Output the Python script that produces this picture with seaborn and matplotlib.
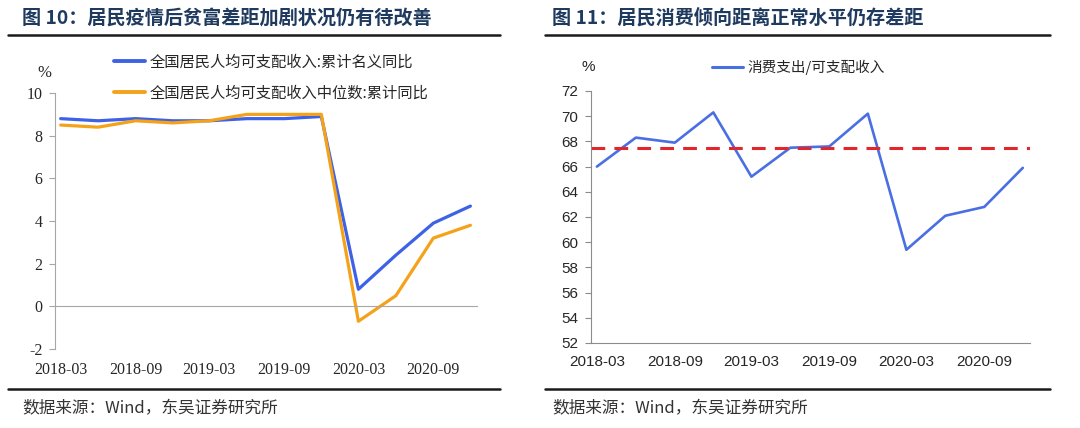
import pandas as pd
import seaborn as sns
import matplotlib.pyplot as plt
from matplotlib.lines import Line2D

# 数据
quarters = ['2018-03', '2018-06', '2018-09', '2018-12',
            '2019-03', '2019-06', '2019-09', '2019-12',
            '2020-03', '2020-06', '2020-09', '2020-12']
tick_months = ['2018-03', '2018-09', '2019-03', '2019-09', '2020-03', '2020-09']
income_nominal = [8.8, 8.7, 8.8, 8.7, 8.7, 8.8, 8.8, 8.9, 0.8, 2.4, 3.9, 4.7]
income_median = [8.5, 8.4, 8.7, 8.6, 8.7, 9.0, 9.0, 9.0, -0.7, 0.5, 3.2, 3.8]
consume_ratio = [66.0, 68.3, 67.9, 70.3, 65.2, 67.5, 67.6, 70.2, 59.4, 62.1, 62.8, 65.9]
normal_level = 67.5

name_nominal = '全国居民人均可支配收入:累计名义同比'
name_median = '全国居民人均可支配收入中位数:累计同比'
name_ratio = '消费支出/可支配收入'

sns.set_style('white')
plt.rcParams['font.family'] = ['Noto Sans CJK SC', 'DejaVu Sans']

dates = pd.to_datetime(quarters) + pd.Timedelta(days=14)
tick_pos = pd.to_datetime(tick_months)
label_pos = tick_pos + pd.Timedelta(days=14)

df_left = pd.DataFrame({'date': list(dates) * 2,
                        'value': income_nominal + income_median,
                        'series': [name_nominal] * 12 + [name_median] * 12})
df_right = pd.DataFrame({'date': dates, 'value': consume_ratio, 'series': name_ratio})

fig = plt.figure(figsize=(10.8, 4.28), dpi=100)
ax1 = fig.add_axes([0.0509, 0.1846, 0.3907, 0.598])
ax2 = fig.add_axes([0.5472, 0.1986, 0.4065, 0.5888])

grey = '#A6A6A6'
serif = ['Liberation Serif', 'Noto Sans CJK SC']
sans = ['Liberation Sans', 'Noto Sans CJK SC']

# 左图
sns.lineplot(data=df_left, x='date', y='value', hue='series', ax=ax1,
             palette={name_nominal: '#3E62E6', name_median: '#F5A21B'},
             linewidth=2.3, legend=False)
ax1.set_xlim(pd.Timestamp('2018-03-01'), pd.Timestamp('2020-12-31'))
ax1.set_ylim(-2, 10)
ax1.set_yticks(range(-2, 11, 2))
ax1.set_yticklabels([str(v) for v in range(-2, 11, 2)], family=serif, fontsize=11.5)
ax1.spines['bottom'].set_position(('data', 0))
for s in ['top', 'right']:
    ax1.spines[s].set_visible(False)
for s in ['left', 'bottom']:
    ax1.spines[s].set_color(grey)
ax1.set_xticks(tick_pos)
ax1.set_xticklabels([])
ax1.set_xticks(label_pos, minor=True)
ax1.set_xticklabels(tick_months, minor=True, family=serif, fontsize=11.5)
ax1.tick_params(axis='x', which='major', direction='out', length=4, color=grey)
ax1.tick_params(axis='x', which='minor', length=0, pad=40)
ax1.tick_params(axis='y', direction='out', length=4, color=grey, pad=5, left=True)
ax1.set_xlabel('')
ax1.set_ylabel('')
fig.text(0.035, 1 - 73 / 428, '%', family=serif, fontsize=12, va='center')
handles1 = [Line2D([], [], color='#3E62E6', lw=2.8), Line2D([], [], color='#F5A21B', lw=2.8)]
fig.legend(handles1, [name_nominal, name_median], loc='center left',
           bbox_to_anchor=(0.106, 1 - 77.5 / 428), frameon=False, fontsize=11,
           handlelength=2.0, handletextpad=0.3, labelspacing=0.95,
           borderpad=0, borderaxespad=0)

# 右图
sns.lineplot(data=df_right, x='date', y='value', ax=ax2, color='#4A6FE3',
             linewidth=1.9, legend=False)
ax2.axhline(normal_level, color='#E3262B', linewidth=2.2, linestyle=(0, (4.5, 3)))
ax2.set_xlim(pd.Timestamp('2018-03-01'), pd.Timestamp('2021-01-01'))
ax2.set_ylim(52, 72)
ax2.set_yticks(range(52, 73, 2))
ax2.set_yticklabels([str(v) for v in range(52, 73, 2)], family=sans, fontsize=11)
for s in ['top', 'right']:
    ax2.spines[s].set_visible(False)
for s in ['left', 'bottom']:
    ax2.spines[s].set_color('#8C8C8C')
ax2.set_xticks(tick_pos)
ax2.set_xticklabels([])
ax2.set_xticks(label_pos, minor=True)
ax2.set_xticklabels(tick_months, minor=True, family=sans, fontsize=11)
ax2.tick_params(axis='x', which='major', direction='out', length=4, color='#8C8C8C')
ax2.tick_params(axis='x', which='minor', length=0, pad=9)
ax2.tick_params(axis='y', direction='out', length=4, color='#8C8C8C', pad=5, left=True)
ax2.set_xlabel('')
ax2.set_ylabel('')
fig.text(582 / 1080, 1 - 67 / 428, '%', family=sans, fontsize=11, va='center')
fig.legend([Line2D([], [], color='#4A6FE3', lw=2.2)], [name_ratio], loc='center left',
           bbox_to_anchor=(712 / 1080, 1 - 67 / 428), frameon=False, fontsize=10.5,
           handlelength=2.1, handletextpad=0.3, borderpad=0, borderaxespad=0)

# 标题、分隔线、来源
title_color = '#1F3A5F'
fig.text(22 / 1080, 1 - 18 / 428, '图 10：居民疫情后贫富差距加剧状况仍有待改善',
         fontsize=13.8, fontweight='bold', color=title_color, va='center')
fig.text(552 / 1080, 1 - 18 / 428, '图 11：居民消费倾向距离正常水平仍存差距',
         fontsize=13.8, fontweight='bold', color=title_color, va='center')
for x0, x1 in [(8, 500), (545, 1050)]:
    for y in [35, 389]:
        fig.add_artist(Line2D([x0 / 1080, x1 / 1080], [1 - y / 428, 1 - y / 428],
                              color='#1A1A1A', linewidth=1.8))
fig.text(22 / 1080, 1 - 409 / 428, '数据来源：Wind，东吴证券研究所',
         fontsize=12, color='#333333', va='center')
fig.text(552 / 1080, 1 - 409 / 428, '数据来源：Wind，东吴证券研究所',
         fontsize=12, color='#333333', va='center')

fig.savefig('out.png', dpi=100)
